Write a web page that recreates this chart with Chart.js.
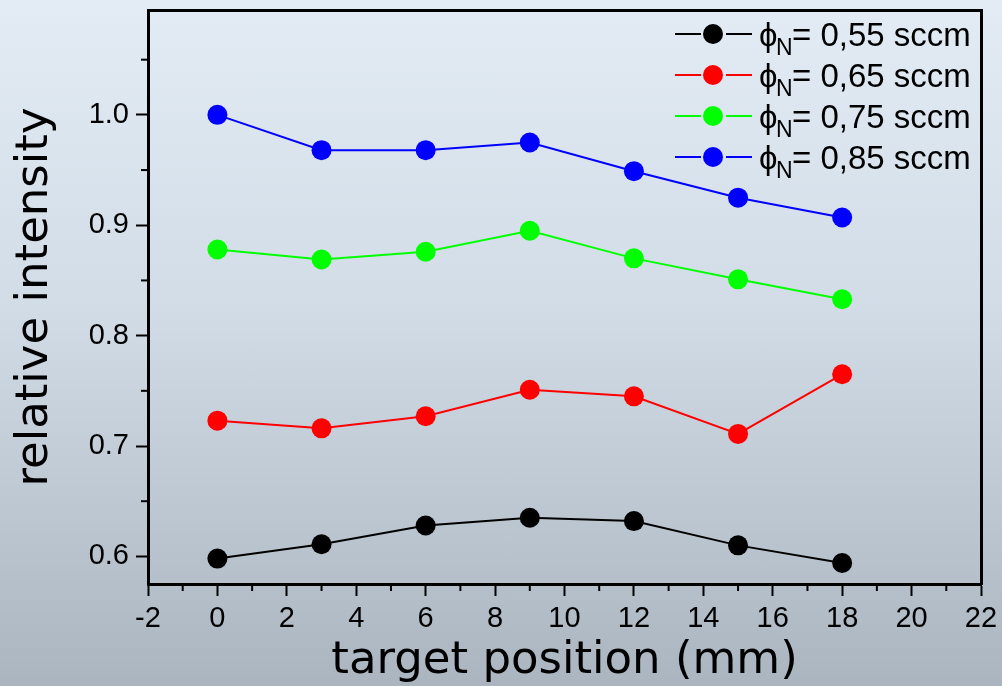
<!DOCTYPE html>
<html>
<head>
<meta charset="utf-8">
<script src="https://cdn.jsdelivr.net/npm/chart.js@4/dist/chart.umd.min.js"></script>
<style>
  html, body { margin: 0; padding: 0; }
  body {
    width: 1002px;
    height: 686px;
    overflow: hidden;
    background: linear-gradient(to bottom, #e3ecf5 0%, #d2dce6 45%, #aab5bf 100%);
  }
  #wrap { position: relative; width: 1002px; height: 686px; }
</style>
</head>
<body>
<div id="wrap"><canvas id="myChart"></canvas></div>
<script>
// target position (mm)
const posizioni = [0, 3, 6, 9, 12, 15, 18];

// relative intensity per flusso di azoto
const flusso055 = [0.598, 0.611, 0.628, 0.635, 0.632, 0.610, 0.594];
const flusso065 = [0.723, 0.716, 0.727, 0.751, 0.745, 0.711, 0.765];
const flusso075 = [0.878, 0.869, 0.876, 0.895, 0.870, 0.851, 0.833];
const flusso085 = [1.000, 0.968, 0.968, 0.975, 0.949, 0.925, 0.907];

const etichette = ["0,55 sccm", "0,65 sccm", "0,75 sccm", "0,85 sccm"];
const colori = ["#000000", "#ff0000", "#00ff00", "#0000ff"];

const xTicks = [-2, 0, 2, 4, 6, 8, 10, 12, 14, 16, 18, 20, 22];
const yTicks = [0.6, 0.7, 0.8, 0.9, 1.0];
const xMinor = [-1, 1, 3, 5, 7, 9, 11, 13, 15, 17, 19, 21];
const yMinor = [0.65, 0.75, 0.85, 0.95, 1.05];

const serie = [flusso055, flusso065, flusso075, flusso085];

const datasets = serie.map((valori, i) => ({
  label: etichette[i],
  data: valori.map((v, j) => ({ x: posizioni[j], y: v })),
  borderColor: colori[i],
  backgroundColor: colori[i],
  pointBackgroundColor: colori[i],
  pointBorderWidth: 0,
  pointRadius: 10,
  pointHoverRadius: 10,
  borderWidth: 2,
  tension: 0,
}));

const fontTick = { family: "'Liberation Sans', Arial, sans-serif", size: 29 };
const fontTitolo = { family: "'DejaVu Sans', sans-serif", size: 45, lineHeight: 1 };

// tacche minori + legenda disegnata a mano (con pedice N)
const extra = {
  id: "extra",
  afterDraw(chart) {
    const ctx = chart.ctx;
    const x = chart.scales.x;
    const y = chart.scales.y;
    ctx.save();
    ctx.strokeStyle = "#000";
    ctx.lineWidth = 2;
    xMinor.forEach((v) => {
      const px = x.getPixelForValue(v);
      ctx.beginPath();
      ctx.moveTo(px, x.top);
      ctx.lineTo(px, x.top + 7);
      ctx.stroke();
    });
    yMinor.forEach((v) => {
      const py = y.getPixelForValue(v);
      ctx.beginPath();
      ctx.moveTo(y.right, py);
      ctx.lineTo(y.right - 7, py);
      ctx.stroke();
    });

    const area = chart.chartArea;
    const x0 = area.right - 306;
    etichette.forEach((testo, i) => {
      const yy = area.top + 24 + i * 41;
      ctx.strokeStyle = colori[i];
      ctx.lineWidth = 2;
      ctx.beginPath();
      ctx.moveTo(x0, yy);
      ctx.lineTo(x0 + 26, yy);
      ctx.moveTo(x0 + 51, yy);
      ctx.lineTo(x0 + 77, yy);
      ctx.stroke();
      ctx.fillStyle = colori[i];
      ctx.beginPath();
      ctx.arc(x0 + 38, yy, 10, 0, Math.PI * 2);
      ctx.fill();

      ctx.fillStyle = "#000";
      ctx.textBaseline = "alphabetic";
      ctx.font = "33px 'Liberation Sans', Arial, sans-serif";
      ctx.fillText("\u03d5", x0 + 84, yy + 12);
      ctx.font = "23px 'Liberation Sans', Arial, sans-serif";
      ctx.fillText("N", x0 + 101, yy + 21);
      ctx.font = "33px 'Liberation Sans', Arial, sans-serif";
      ctx.fillText("= " + testo, x0 + 117, yy + 12);
    });
    ctx.restore();
  },
};

const config = {
  type: "line",
  data: { datasets: datasets },
  options: {
    responsive: false,
    animation: false,
    layout: { padding: { top: 8, right: 21, left: 0, bottom: 0 } },
    plugins: {
      legend: { display: false },
      tooltip: { enabled: false },
    },
    scales: {
      x: {
        type: "linear",
        position: "bottom",
        min: -2,
        max: 22,
        afterBuildTicks: (scale) => {
          scale.ticks = xTicks.map((v) => ({ value: v }));
        },
        afterFit: (scale) => {
          scale.height = 102;
          scale.paddingLeft = 0;
          scale.paddingRight = 0;
        },
        ticks: {
          color: "#000",
          font: fontTick,
          padding: 6,
          maxRotation: 0,
          autoSkip: false,
        },
        grid: {
          drawOnChartArea: false,
          drawTicks: true,
          tickLength: 12,
          tickColor: "#000",
          tickWidth: 2,
        },
        border: { display: true, color: "#000", width: 3 },
        title: {
          display: true,
          text: "target position (mm)",
          color: "#000",
          font: fontTitolo,
          padding: { top: 0, bottom: 2 },
        },
      },
      y: {
        type: "linear",
        position: "left",
        min: 0.575,
        max: 1.095,
        afterBuildTicks: (scale) => {
          scale.ticks = yTicks.map((v) => ({ value: v }));
        },
        afterFit: (scale) => {
          scale.width = 148;
          scale.paddingTop = 0;
          scale.paddingBottom = 0;
        },
        ticks: {
          color: "#000",
          font: fontTick,
          padding: 7,
          callback: (v) => v.toFixed(1),
        },
        grid: {
          drawOnChartArea: false,
          drawTicks: true,
          tickLength: 12,
          tickColor: "#000",
          tickWidth: 2,
        },
        border: { display: true, color: "#000", width: 3 },
        title: {
          display: true,
          text: "relative intensity",
          color: "#000",
          font: fontTitolo,
          padding: { top: 13, bottom: 0 },
        },
      },
      x2: {
        type: "linear",
        position: "top",
        min: -2,
        max: 22,
        afterFit: (scale) => {
          scale.height = 0;
        },
        ticks: { display: false },
        grid: { display: false },
        border: { display: true, color: "#000", width: 3 },
      },
      y2: {
        type: "linear",
        position: "right",
        min: 0.575,
        max: 1.095,
        afterFit: (scale) => {
          scale.width = 0;
        },
        ticks: { display: false },
        grid: { display: false },
        border: { display: true, color: "#000", width: 3 },
      },
    },
  },
  plugins: [extra],
};

const canvas = document.getElementById("myChart");
canvas.width = 1002;
canvas.height = 686;
const myChart = new Chart(canvas, config);
</script>
</body>
</html>
